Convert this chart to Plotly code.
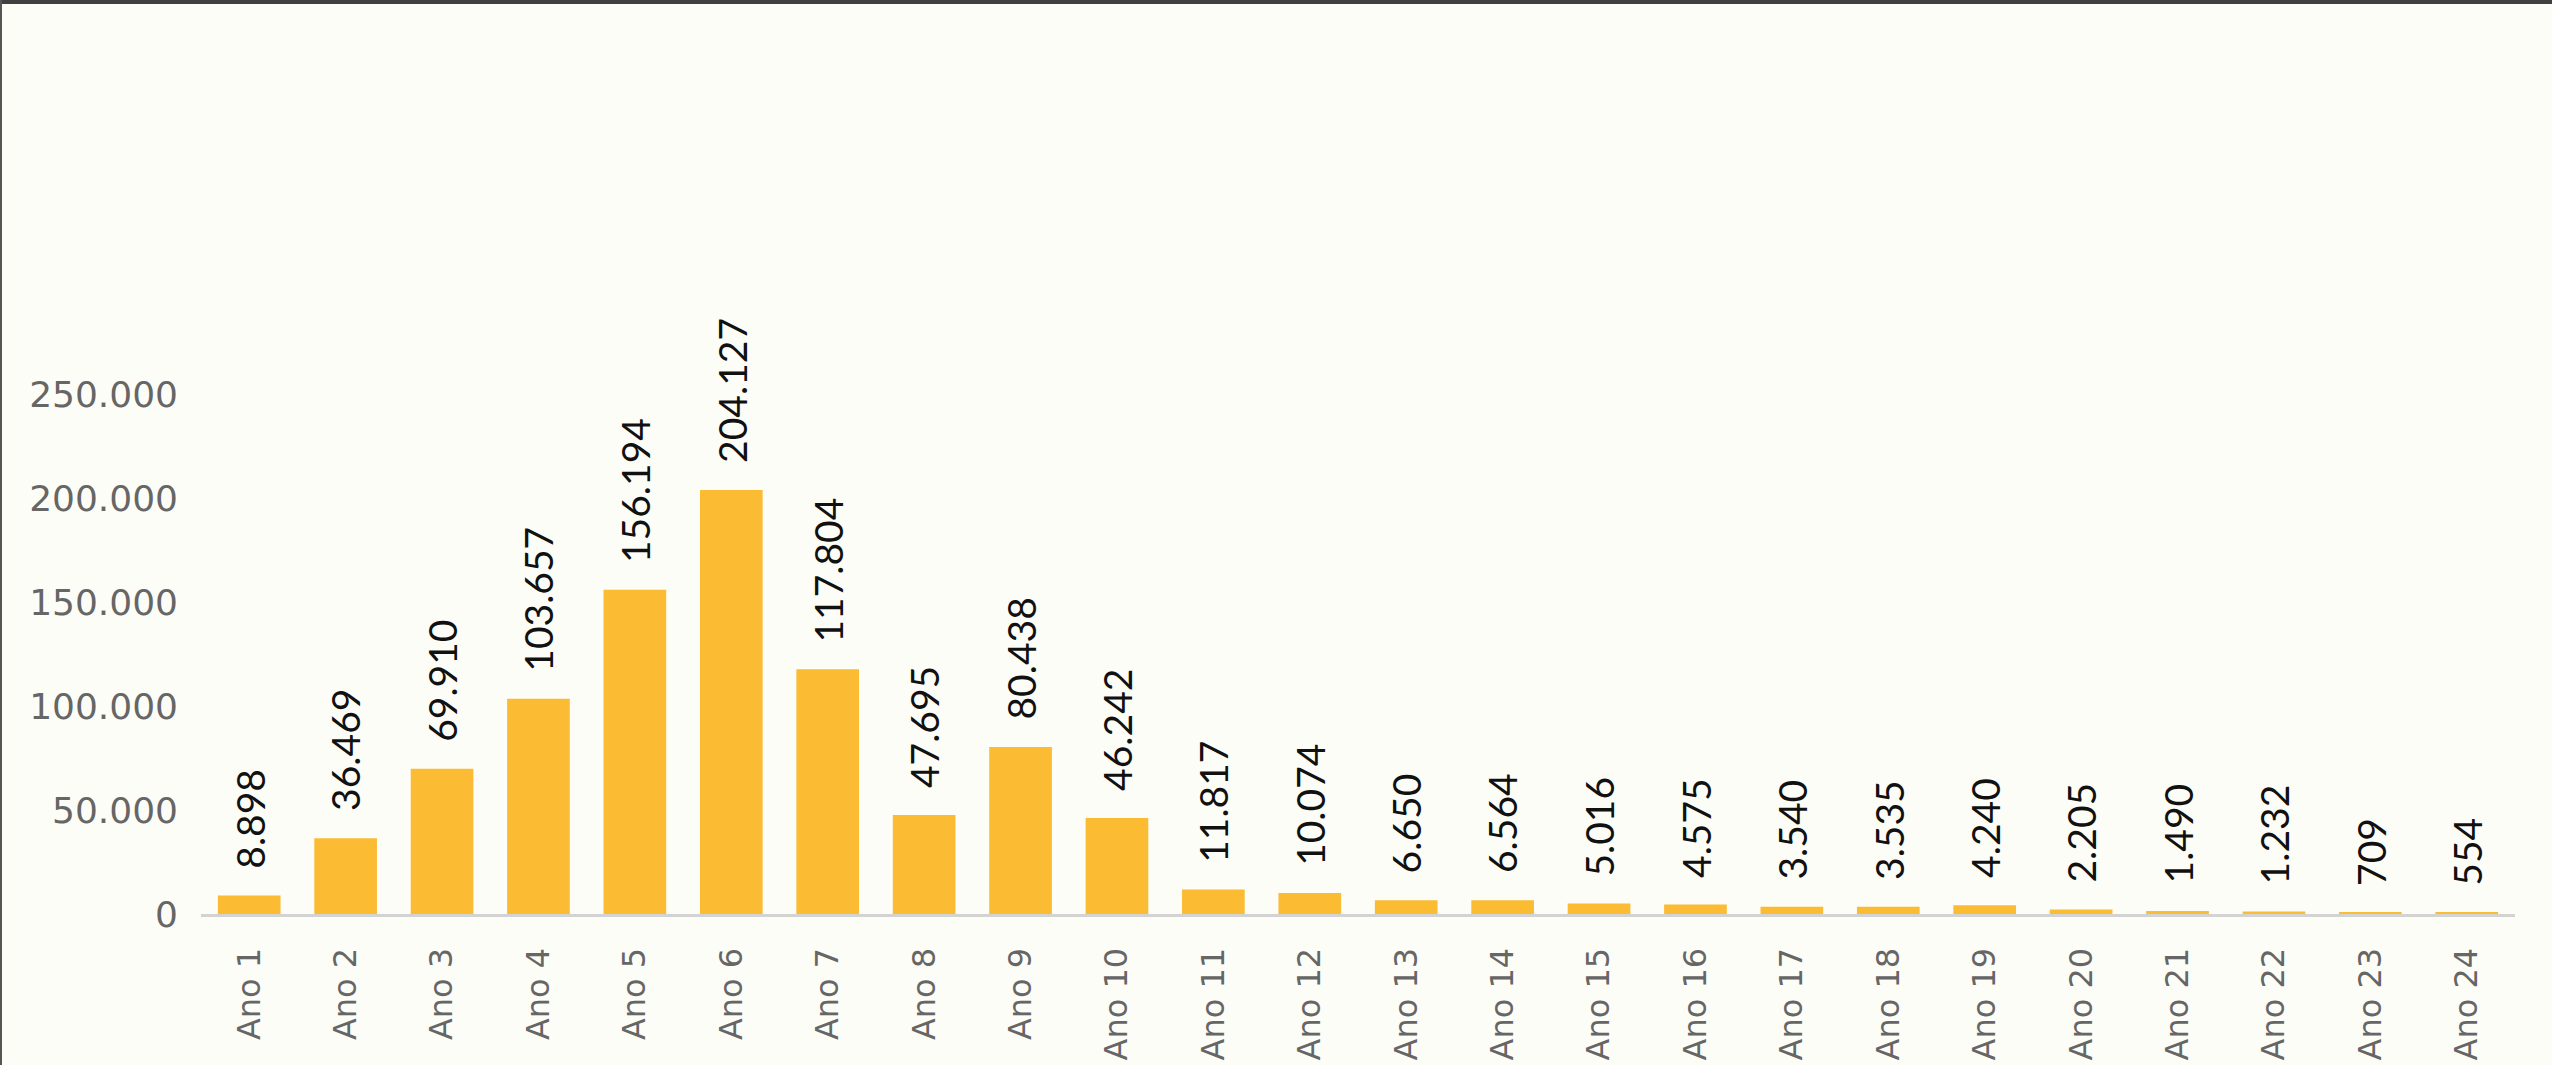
import plotly.graph_objects as go

categories = [f"Ano {i}" for i in range(1, 25)]
values = [8898, 36469, 69910, 103657, 156194, 204127, 117804, 47695, 80438, 46242,
          11817, 10074, 6650, 6564, 5016, 4575, 3540, 3535, 4240, 2205, 1490, 1232, 709, 554]
y_ticks = [0, 50000, 100000, 150000, 200000, 250000]

def fmt(v):
    return f"{v:,}".replace(",", ".")

W, H = 2552, 1065
ML, MR, MT, MB = 201, 37, 291, 151
BG = "#FDFDF8"

fig = go.Figure()
fig.add_trace(go.Bar(
    x=categories, y=values,
    marker=dict(color="#FBBB33", line=dict(width=0)),
    hoverinfo="x+y",
))

annotations = []
for c, v in zip(categories, values):
    annotations.append(dict(
        x=c, y=v, xref="x", yref="y", text=fmt(v), showarrow=False,
        textangle=-90, yanchor="bottom", xanchor="center", yshift=25,
        font=dict(family="Lato", size=39, color="#111111"),
    ))

pw = W - ML - MR
ph = H - MT - MB
shapes = [
    dict(type="rect", xref="paper", yref="paper",
         x0=-ML / pw, x1=(W - ML) / pw, y0=(H - MB - 4) / ph, y1=(H - MB) / ph,
         fillcolor="#404040", line=dict(width=0), layer="above"),
    dict(type="rect", xref="paper", yref="paper",
         x0=-ML / pw, x1=(-ML + 2) / pw, y0=-MB / ph, y1=(H - MB) / ph,
         fillcolor="#555555", line=dict(width=0), layer="above"),
]

fig.update_layout(
    width=W, height=H,
    margin=dict(l=ML, r=MR, t=MT, b=MB, pad=0, autoexpand=False),
    paper_bgcolor=BG, plot_bgcolor=BG,
    separators=",.",
    bargap=0.35,
    showlegend=False,
    annotations=annotations,
    shapes=shapes,
    xaxis=dict(
        type="category", automargin=False,
        showgrid=False, zeroline=False,
        showline=True, linecolor="#D3D3D3", linewidth=3,
        ticks="", tickangle=-90, ticklabelstandoff=18,
        tickfont=dict(family="DejaVu Sans", size=32, color="#666666"),
    ),
    yaxis=dict(
        range=[0, 300000], automargin=False,
        tickvals=y_ticks, ticktext=[fmt(t) for t in y_ticks],
        showgrid=False, zeroline=False, showline=False,
        ticks="", ticklabelstandoff=22,
        tickfont=dict(family="DejaVu Sans", size=36, color="#666666"),
    ),
)

fig.write_html(
    "out.html",
    config={"displayModeBar": False},
    post_script="document.body.style.margin='0';document.body.style.overflow='hidden';document.body.style.background='#FDFDF8';",
)
